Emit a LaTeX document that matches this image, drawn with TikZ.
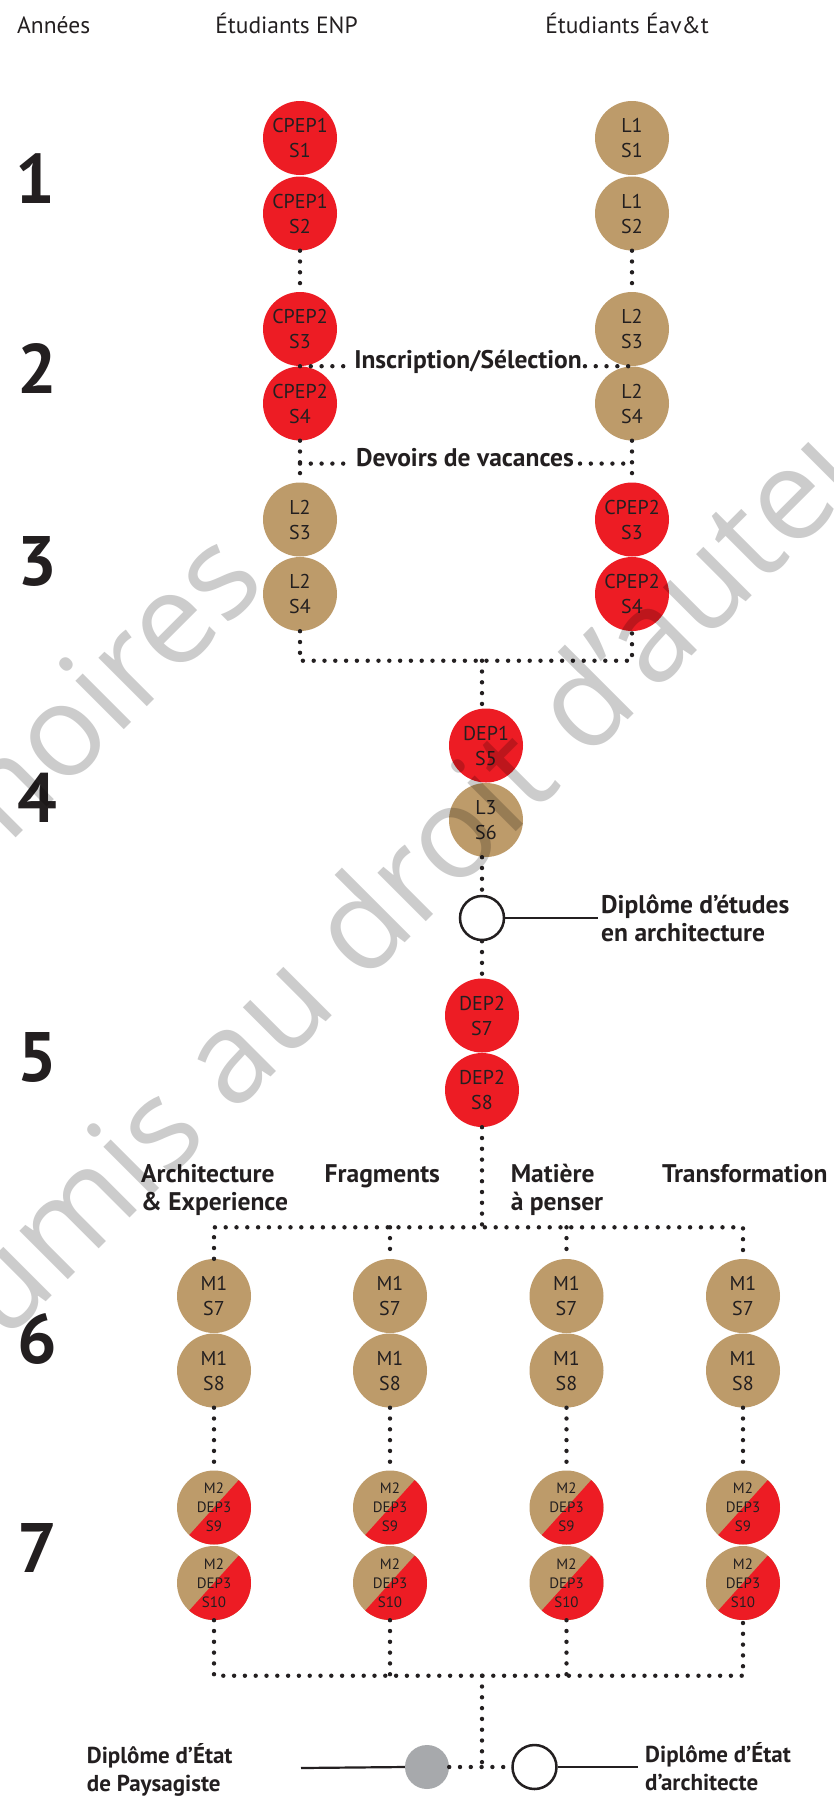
\documentclass[tikz,border=0pt]{standalone}
\usepackage{fontspec}
\setmainfont{PT Sans}
\newfontfamily\wmfont{Open Sans}
\usetikzlibrary{calc}
\definecolor{epred}{RGB}{237,28,36}
\definecolor{eptan}{RGB}{189,155,106}
\definecolor{eptext}{RGB}{35,31,32}
\definecolor{epgray}{RGB}{167,169,172}
\begin{document}
\begin{tikzpicture}[x=1pt,y=-1pt,
  sem/.style={circle, minimum size=74pt, inner sep=0pt, text=eptext, align=center, font=\fontsize{20}{25}\selectfont},
  redsem/.style={sem, fill=epred},
  tansem/.style={sem, fill=eptan},
  splitsem/.style={sem, font=\fontsize{15}{19}\selectfont},
  dots/.style={draw=eptext, line width=4.4pt, dash pattern=on 0pt off 10.8pt, line cap=round},
  plainline/.style={draw=eptext, line width=2.2pt},
  lab/.style={font=\fontsize{25.5}{28}\selectfont\bfseries, text=eptext, inner sep=0pt, align=left},
  blab/.style={lab, font=\fontsize{23}{28}\selectfont\bfseries},
  head/.style={font=\fontsize{23.5}{27}\selectfont, text=eptext, inner sep=0pt},
  year/.style={font=\fontsize{70}{70}\selectfont\bfseries, text=eptext, inner sep=0pt},
  dipw/.style={circle, minimum size=44pt, inner sep=0pt, draw=eptext, line width=2.5pt, fill=white},
  dipg/.style={circle, minimum size=44pt, inner sep=0pt, fill=epgray},
  wm/.style={rotate=45, anchor=base, text=black, text opacity=0.2, inner sep=0pt, font=\wmfont\fontsize{128}{128}\selectfont}
]
\useasboundingbox (0,0) rectangle (834,1800);
\fill[white] (0,0) rectangle (834,1800);

% headers
\node[head, anchor=base west] (hA) at (17,33) {Années};
\node[head, anchor=base] (hE) at (286.5,33) {Étudiants ENP};
\node[head, anchor=base] (hT) at (627,33) {Étudiants Éav\&t};

% years
\node[year] (y1) at (35,179) {1};
\node[year] (y2) at (37,369) {2};
\node[year] (y3) at (37,561) {3};
\node[year] (y4) at (37,797.6) {4};
\node[year] (y5) at (37,1057) {5};
\node[year] (y6) at (37,1339) {6};
\node[year] (y7) at (37,1548) {7};

% ENP column
\node[redsem] (e1) at (300,138) {CPEP1\\S1};
\node[redsem] (e2) at (300,213.5) {CPEP1\\S2};
\node[redsem] (e3) at (300,329) {CPEP2\\S3};
\node[redsem] (e4) at (300,403.5) {CPEP2\\S4};
\node[tansem] (e5) at (300,519.5) {L2\\S3};
\node[tansem] (e6) at (300,594) {L2\\S4};
% Eav&t column
\node[tansem] (t1) at (632,138) {L1\\S1};
\node[tansem] (t2) at (632,213.5) {L1\\S2};
\node[tansem] (t3) at (632,329) {L2\\S3};
\node[tansem] (t4) at (632,403.5) {L2\\S4};
\node[redsem] (t5) at (632,519.5) {CPEP2\\S3};
\node[redsem] (t6) at (632,594) {CPEP2\\S4};

\draw[dots] (e2.south) -- (e3.north);
\draw[dots] (t2.south) -- (t3.north);
\draw[dots] (e4.south) -- (e5.north);
\draw[dots] (t4.south) -- (t5.north);

\node[lab, anchor=mid, inner xsep=3pt] (ins) at ($(e3.south)!0.5!(t3.south)+(2,0)$) {Inscription/Sélection};
\draw[dots] (e3.south) -- (ins.mid west);
\draw[dots] (ins.mid east) -- (t3.south);

\coordinate (dvL) at ($(e4.south)!0.55!(e5.north)$);
\coordinate (dvR) at ($(t4.south)!0.55!(t5.north)$);
\node[lab, anchor=mid, inner xsep=6pt] (dev) at ($(dvL)!0.5!(dvR)+(-1,0)$) {Devoirs de vacances};
\draw[dots] (dvL) -- (dev.mid west);
\draw[dots] (dev.mid east) -- (dvR);

% merge 1
\coordinate (j1) at (482,660.7);
\draw[dots] (e6.south) |- (j1) -| (t6.south);

% central column
\node[redsem] (d1) at (486,745.5) {DEP1\\S5};
\node[tansem] (d2) at (486,820) {L3\\S6};
\node[dipw] (dea) at (482,918) {};
\node[redsem] (d3) at (482,1015.5) {DEP2\\S7};
\node[redsem] (d4) at (482,1090) {DEP2\\S8};
\draw[dots] (j1) -- (j1 |- d1.north);
\draw[dots] (dea.north |- d2.south) -- (dea.north);
\draw[dots] (dea.south) -- (d3.north);
\node[lab, anchor=base west, inner xsep=3pt] (deal) at (598,941.7) {Diplôme d’études\\en architecture};
\draw[plainline] (dea.east) -- (dea.east -| deal.west);

% branch labels
\node[lab, anchor=base west] (l1) at (141,1210) {Architecture\\\& Experience};
\node[lab, anchor=base west] (l2) at (324.5,1182.7) {Fragments};
\node[lab, anchor=base west] (l3) at (510.6,1210) {Matière\\à penser};
\node[lab, anchor=base west] (l4) at (662,1182.7) {Transformation};

% four branches
\coordinate (j2) at (482,1227.3);
\draw[dots] (d4.south) -- (j2);
\foreach \i/\x in {1/214,2/390,3/566.5,4/743}{
  \node[tansem] (a\i) at (\x,1296) {M1\\S7};
  \node[tansem] (b\i) at (\x,1370.5) {M1\\S8};
  \fill[eptan] (\x,1507.5) circle[radius=37];
  \fill[epred] ($(\x,1507.5)+(-48:37)$) arc[start angle=-48, end angle=132, radius=37] -- cycle;
  \node[splitsem] (c\i) at (\x,1507.5) {M2\\DEP3\\S9};
  \fill[eptan] (\x,1583) circle[radius=37];
  \fill[epred] ($(\x,1583)+(-48:37)$) arc[start angle=-48, end angle=132, radius=37] -- cycle;
  \node[splitsem] (f\i) at (\x,1583) {M2\\DEP3\\S10};
  \draw[dots] (b\i.south) -- (c\i.north);
}
\draw[dots] (a1.north) |- (j2) -| (a4.north);
\draw[dots] (a2.north |- j2) -- (a2.north);
\draw[dots] (a3.north |- j2) -- (a3.north);

% merge 3
\coordinate (j3) at (482,1675.7);
\draw[dots] (f1.south) |- (j3) -| (f4.south);
\draw[dots] (f2.south) -- (f2.south |- j3);
\draw[dots] (f3.south) -- (f3.south |- j3);

% final diplomas
\node[dipg] (gry) at (427,1767) {};
\node[dipw] (wht) at (534.5,1767) {};
\coordinate (j4) at (482,1767);
\draw[dots] (j3) -- (j4);
\draw[dots] (gry.east) -- (wht.west);
\coordinate (plend) at (301,1768);
\draw[plainline] (gry.west) -- (plend);
\node[blab, anchor=base west] (pay) at (86.7,1791.7) {Diplôme d’État\\de Paysagiste};
\node[blab, anchor=base west, inner xsep=7pt] (arch) at (638,1790) {Diplôme d’État\\d’architecte};
\draw[plainline] (wht.east) -- (wht.east -| arch.west);

% watermark
\node[wm] (wm1) at (57,797) {Mémoires};
\node[wm] (wm2) at (421,927) {soumis au droit d’auteur};
\end{tikzpicture}
\end{document}
